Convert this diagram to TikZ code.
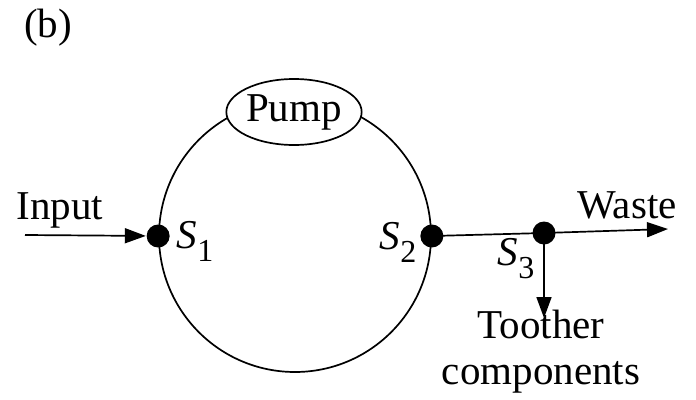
\documentclass[tikz,border=0pt]{standalone}
\usepackage{fontspec}
\setmainfont{Liberation Serif}
\usetikzlibrary{arrows.meta,shapes.geometric}
\newcommand{\sub}[1]{\textit{S}\raisebox{-13pt}{\fontsize{32}{32}\selectfont #1}}
\begin{document}
\begin{tikzpicture}[x=1pt,y=-1pt,
  line width=1.7pt,
  lbl/.style={font=\fontsize{41}{46}\selectfont, inner sep=0pt},
  junction/.style={circle, fill=black, minimum size=23pt, inner sep=0pt},
  arr/.style={-{Triangle[length=21pt,width=15pt]}}]
\useasboundingbox (0,0) rectangle (696,399);
\node[circle, draw, minimum size=272pt, inner sep=0pt] (loop) at (295,236) {};
\node[ellipse, draw, fill=white, minimum width=126pt, minimum height=66pt, inner sep=0pt, lbl] (pump) at (294,112) {Pump};
\node[junction] (s1) at (loop.west) {};
\node[junction] (s2) at (loop.east) {};
\node[junction] (s3) at (544,233) {};
\coordinate (in) at (25,235);
\coordinate (waste) at (668,229);
\coordinate (other) at (544,318);
\draw[arr] (in) -- (s1);
\draw (s2.center) -- (s3.center);
\draw[arr] (s3.center) -- (waste);
\draw[arr] (s3.center) -- (other);
\node[lbl] (tb) at (48,28) {(b)};
\node[lbl] (tin) at (60,210) {Input};
\node[lbl] (twaste) at (627,205) {Waste};
\node[lbl] (ts1) at (195,241) {\sub{1}};
\node[lbl] (ts2) at (398,242) {\sub{2}};
\node[lbl] (ts3) at (516,259) {\sub{3}};
\node[lbl, align=center] (tother) at (541,352) {Toother\\components};
\end{tikzpicture}
\end{document}
